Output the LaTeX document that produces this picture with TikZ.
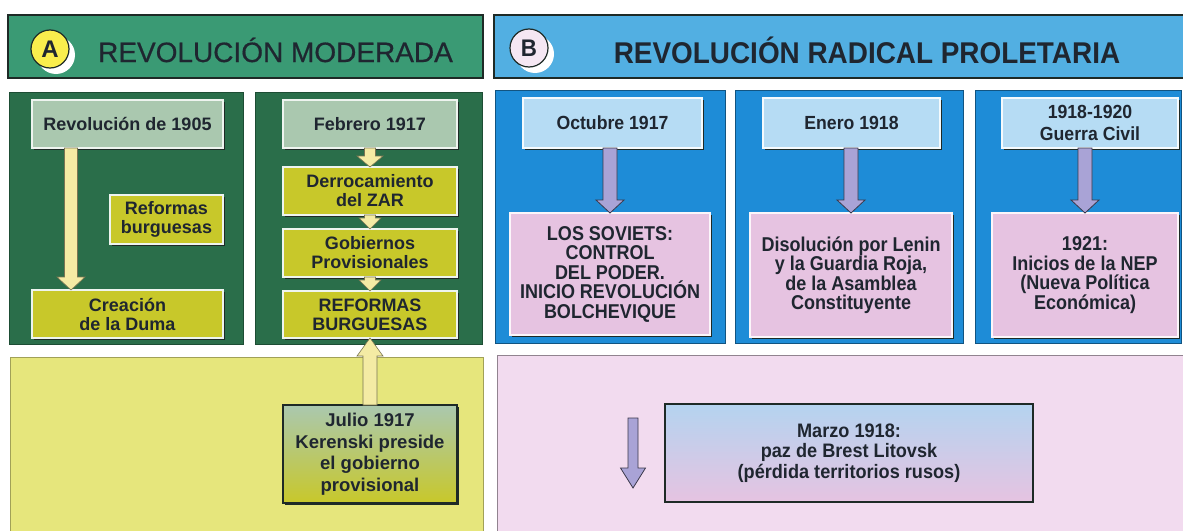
\documentclass[tikz,border=0pt]{standalone}
\usepackage{fontspec}
\setmainfont{Liberation Sans}
\newfontfamily\condf[FakeStretch=0.93]{Liberation Sans}
\newfontfamily\narrowf[FakeStretch=0.9]{Liberation Sans}
\newfontfamily\medf[FakeBold=0.6]{Liberation Sans}
\usetikzlibrary{calc,shadows}
\definecolor{txt}{HTML}{1F2630}
\definecolor{hdgreen}{HTML}{3A9A74}
\definecolor{pgreen}{HTML}{2A6E4A}
\definecolor{lgbox}{HTML}{AAC8AF}
\definecolor{ybox}{HTML}{C8C82A}
\definecolor{cream}{HTML}{F4EBA4}
\definecolor{ylpanel}{HTML}{E6E67C}
\definecolor{hdblue}{HTML}{52AFE2}
\definecolor{pblue}{HTML}{1E8CD7}
\definecolor{lbbox}{HTML}{B6DCF4}
\definecolor{pinkbox}{HTML}{E6C3E1}
\definecolor{pkpanel}{HTML}{F2DBEF}
\definecolor{lav}{HTML}{A9A3D6}
\definecolor{dk}{HTML}{1E2A26}
\newcommand\blockarrow[6]{%
  \path[#1] let \p1=(#2), \p2=(#3) in
   (\x1-#4,\y1) -- (\x1-#4,\y2+#6) -- (\x1-#5,\y2+#6) -- (\x1,\y2)
   -- (\x1+#5,\y2+#6) -- (\x1+#4,\y2+#6) -- (\x1+#4,\y1) -- cycle;}
\begin{document}
\begin{tikzpicture}[x=1pt,y=-1pt,
  every node/.style={inner sep=0pt, outer sep=0pt, align=center, text=txt},
  sz/.style 2 args={minimum width=#1pt, minimum height=#2pt},
  header/.style={draw=dk, line width=1.3pt},
  gpanel/.style={fill=pgreen, draw=pgreen!70!black, line width=0.8pt},
  bpanel/.style={fill=pblue, draw=pblue!60!black, line width=0.8pt},
  gbox/.style={draw=white!80!lgbox, line width=1.1pt,
     drop shadow={shadow xshift=2pt, shadow yshift=-2pt, opacity=1, fill=dk},
     font=\bfseries\fontsize{18}{19}\selectfont},
  lgb/.style={gbox, fill=lgbox},
  ygb/.style={gbox, fill=ybox},
  bbox/.style={draw=white!85!lbbox, line width=1.1pt, fill=lbbox,
     drop shadow={shadow xshift=2pt, shadow yshift=-2pt, opacity=1, fill=dk},
     font=\condf\bfseries\fontsize{19}{21.5}\selectfont},
  pbox/.style={draw=white!85!pinkbox, line width=1.1pt, fill=pinkbox,
     drop shadow={shadow xshift=1.5pt, shadow yshift=-1.5pt, opacity=1, fill=dk},
     font=\narrowf\bfseries\fontsize{20}{19.5}\selectfont},
  creamarrow/.style={fill=cream, draw=cream!50!black, line width=0.6pt},
  lavarrow/.style={fill=lav, draw=lav!35!black, line width=0.8pt}
]
\useasboundingbox (0,0) rectangle (1183,530);
\clip (0,0) rectangle (1183,530);

% ---------- headers ----------
\node[header, fill=hdgreen, sz={475}{63}] (hA) at (245.5,46.5) {};
\node[header, fill=hdblue, sz={700}{63}] (hB) at (844,46.5) {};
\fill[white] (56,55) circle (19);
\node[circle, draw=dk, line width=1.2pt, fill=yellow!55!cream, minimum size=38pt,
      font=\bfseries\fontsize{24}{24}\selectfont] (cA) at (50,49) {A};
\fill[white] (535,54) circle (19);
\node[circle, draw=dk, line width=1.2pt, fill=pinkbox!40!white, minimum size=38pt,
      font=\condf\bfseries\fontsize{24}{24}\selectfont] (cB) at (529,48) {B};
\node[font=\medf\fontsize{28}{28}\selectfont] (tA) at (275.5,50) {REVOLUCIÓN MODERADA};
\node[font=\condf\bfseries\fontsize{30}{30}\selectfont] (tB) at (867,50) {REVOLUCIÓN RADICAL PROLETARIA};

% ---------- panels ----------
\node[gpanel, sz={234}{252}] (p1) at (126,218) {};
\node[gpanel, sz={227}{252}] (p2) at (368.5,218) {};
\node[bpanel, sz={230}{253}] (p3) at (610,216.5) {};
\node[bpanel, sz={228}{253}] (p4) at (849,216.5) {};
\node[bpanel, sz={206}{253}] (p5) at (1078,216.5) {};
\node[fill=ylpanel, draw=ylpanel!70!black, line width=0.6pt, sz={473}{185}] (p6) at (246.5,449.5) {};
\node[fill=pkpanel, draw=pkpanel!60!black, line width=0.6pt, sz={690}{185}] (p7) at (842,447.5) {};

% ---------- green boxes ----------
\node[lgb, sz={191}{48}] (r1905) at (127.5,124) {Revolución de 1905};
\node[ygb, sz={113}{49}] (refb) at (166.5,219.5) {Reformas\\burguesas};
\node[ygb, sz={191}{48}] (duma) at (127.5,314) {Creación\\de la Duma};
\node[lgb, sz={174}{48}] (feb) at (370,124) {Febrero 1917};
\node[ygb, sz={174}{48}] (zar) at (370,191) {Derrocamiento\\del ZAR};
\node[ygb, sz={174}{48}] (gob) at (370,253) {Gobiernos\\Provisionales};
\node[ygb, sz={174}{47}] (refB) at (370,314.5) {REFORMAS\\BURGUESAS};
\node[draw=dk, line width=1.8pt, top color=lgbox, bottom color=ybox, sz={174}{98},
      drop shadow={shadow xshift=2pt, shadow yshift=-2pt, opacity=1, fill=dk},
      font=\bfseries\fontsize{18.5}{21.5}\selectfont] (jul) at (370,454)
      {Julio 1917\\Kerenski preside\\el gobierno\\provisional};

% ---------- blue boxes ----------
\node[bbox, sz={179}{50}] (oct) at (612.5,123) {Octubre 1917};
\node[pbox, sz={200}{122}] (sov) at (610,274) {LOS SOVIETS:\\CONTROL\\DEL PODER.\\INICIO REVOLUCIÓN\\BOLCHEVIQUE};
\node[bbox, sz={177}{50}] (ene) at (851.5,123) {Enero 1918};
\node[pbox, sz={202}{124}] (dis) at (851,275) {Disolución por Lenin\\y la Guardia Roja,\\de la Asamblea\\Constituyente};
\node[bbox, sz={176}{50}] (gue) at (1090,123) {1918-1920\\Guerra Civil};
\node[pbox, sz={186}{124}] (nep) at (1085,275) {1921:\\Inicios de la NEP\\(Nueva Política\\Económica)};
\node[draw=dk, line width=2pt, top color=lbbox!85!lav, bottom color=pinkbox, sz={368}{98},
      font=\condf\bfseries\fontsize{19.5}{20.5}\selectfont] (mar) at (849,453)
      {Marzo 1918:\\paz de Brest Litovsk\\(pérdida territorios rusos)};

% ---------- arrows ----------
\blockarrow{creamarrow}{$(r1905.south west)+(39,0)$}{$(duma.north west)+(39,0)$}{6.5pt}{14pt}{13pt}
\blockarrow{creamarrow}{feb.south}{zar.north}{5.5pt}{13pt}{11pt}
\blockarrow{creamarrow}{zar.south}{gob.north}{5.5pt}{11pt}{11pt}
\blockarrow{creamarrow}{gob.south}{refB.north}{5.5pt}{11pt}{11pt}
\blockarrow{creamarrow}{jul.north}{refB.south}{7pt}{13pt}{-18pt}
\blockarrow{lavarrow}{sov.north |- oct.south}{sov.north}{7pt}{14pt}{13pt}
\blockarrow{lavarrow}{dis.north |- ene.south}{dis.north}{7pt}{14pt}{13pt}
\blockarrow{lavarrow}{nep.north |- gue.south}{nep.north}{7pt}{14pt}{13pt}
\coordinate (m1) at (633,418);
\coordinate (m2) at (633,488);
\blockarrow{lavarrow}{m1}{m2}{5pt}{12.5pt}{20pt}
\end{tikzpicture}
\end{document}
